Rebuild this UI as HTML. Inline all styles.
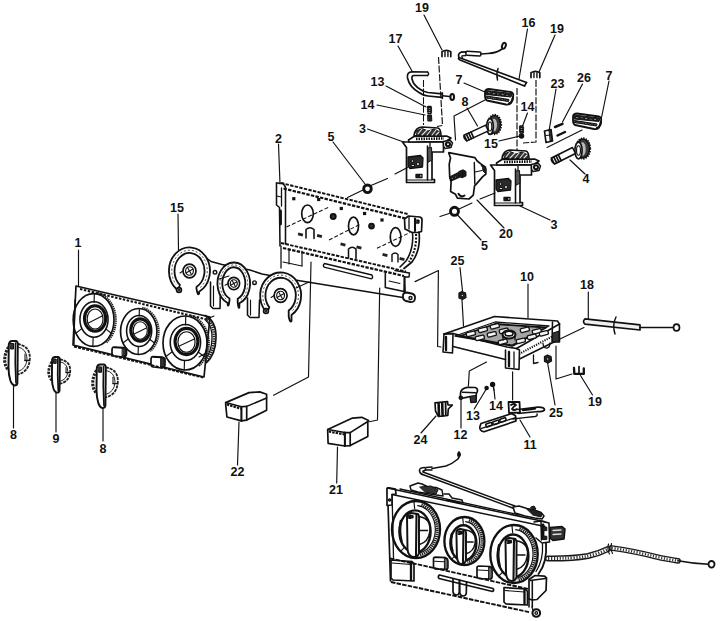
<!DOCTYPE html>
<html><head><meta charset="utf-8"><style>
html,body{margin:0;padding:0;background:#fff;overflow:hidden;}
svg{display:block;}
text{font-family:"Liberation Sans",sans-serif;font-weight:bold;font-size:12.5px;fill:#111;text-anchor:middle;}
</style></head><body>
<svg width="720" height="621" viewBox="0 0 720 621">
<rect width="720" height="621" fill="#fff"/>
<g fill="none" stroke="#111" stroke-linecap="round" stroke-linejoin="round">
<line x1="424" y1="15" x2="442" y2="50" stroke-width="1.17"/>
<line x1="398" y1="46" x2="412" y2="71" stroke-width="1.17"/>
<line x1="386" y1="86" x2="426" y2="107" stroke-width="1.17"/>
<line x1="377" y1="105" x2="425" y2="115" stroke-width="1.17"/>
<line x1="464" y1="83" x2="485" y2="92" stroke-width="1.17"/>
<line x1="467" y1="108" x2="477.5" y2="126" stroke-width="1.17"/>
<line x1="527.5" y1="29" x2="519" y2="79" stroke-width="1.17"/>
<line x1="555" y1="35" x2="539" y2="72" stroke-width="1.17"/>
<line x1="527.5" y1="113" x2="521" y2="130" stroke-width="1.17"/>
<line x1="499" y1="141" x2="520" y2="136" stroke-width="1.17"/>
<line x1="556" y1="89" x2="549" y2="131" stroke-width="1.17"/>
<line x1="582.5" y1="84" x2="562.5" y2="122" stroke-width="1.17"/>
<line x1="609" y1="81" x2="601" y2="120" stroke-width="1.17"/>
<line x1="367.5" y1="129" x2="405" y2="142.5" stroke-width="1.17"/>
<line x1="333" y1="142" x2="365" y2="184" stroke-width="1.17"/>
<line x1="278.5" y1="144" x2="280" y2="184" stroke-width="1.17"/>
<line x1="585" y1="174" x2="570" y2="160" stroke-width="1.17"/>
<line x1="550" y1="220" x2="520" y2="206" stroke-width="1.17"/>
<line x1="504" y1="228" x2="477" y2="200" stroke-width="1.17"/>
<line x1="481" y1="240" x2="457.5" y2="215" stroke-width="1.17"/>
<line x1="178" y1="214" x2="178.5" y2="250" stroke-width="1.17"/>
<line x1="78.5" y1="250" x2="78.5" y2="286" stroke-width="1.17"/>
<line x1="460" y1="267.5" x2="462.5" y2="291" stroke-width="1.17"/>
<line x1="528" y1="284" x2="528" y2="317.5" stroke-width="1.17"/>
<line x1="588.3" y1="292" x2="588.3" y2="320" stroke-width="1.17"/>
<line x1="13.5" y1="386" x2="13.5" y2="428" stroke-width="1.17"/>
<line x1="56" y1="392" x2="56" y2="432" stroke-width="1.17"/>
<line x1="103" y1="408" x2="103" y2="441" stroke-width="1.17"/>
<line x1="239" y1="422" x2="237.5" y2="465" stroke-width="1.17"/>
<line x1="337.5" y1="447" x2="336.7" y2="483" stroke-width="1.17"/>
<line x1="436" y1="416" x2="421" y2="433" stroke-width="1.17"/>
<line x1="461" y1="399" x2="461" y2="428" stroke-width="1.17"/>
<line x1="474.2" y1="409" x2="486" y2="389.5" stroke-width="1.17"/>
<line x1="494" y1="390" x2="495" y2="399" stroke-width="1.17"/>
<line x1="520" y1="420" x2="530" y2="437" stroke-width="1.17"/>
<line x1="547.5" y1="362.5" x2="555" y2="405" stroke-width="1.17"/>
<line x1="580.5" y1="375.5" x2="592.5" y2="395" stroke-width="1.17"/>
<line x1="281" y1="183" x2="408.5" y2="214.2" stroke-width="1.95" stroke-linecap="butt" stroke-dasharray="3.4 1.3"/>
<line x1="283.5" y1="188.5" x2="406" y2="218.6" stroke-width="2.21" stroke-linecap="butt" stroke-dasharray="3.4 1.3"/>
<polyline points="276.5,183 283,183.5 285.5,187 285.5,244" stroke-width="1.56" fill="none"/>
<polyline points="276.5,183 276.5,205 279.5,207.5 280,246" stroke-width="1.56" fill="none"/>
<line x1="281.5" y1="188" x2="281.5" y2="206" stroke-width="1.30"/>
<line x1="280.5" y1="211" x2="280.5" y2="224" stroke-width="2.86"/>
<line x1="276.5" y1="196" x2="281.5" y2="197" stroke-width="1.17"/>
<line x1="281" y1="243" x2="406" y2="271.5" stroke-width="1.95" stroke-linecap="butt" stroke-dasharray="3.4 1.3"/>
<line x1="283" y1="248" x2="404" y2="276" stroke-width="2.21" stroke-linecap="butt" stroke-dasharray="3.4 1.3"/>
<path d="M404.5,219 L408.5,216 L420,217 Q422.5,218 422,221 L421.5,231.5 L418,232.5 L412,232.5 L405,229 Z" fill="#fff" stroke="#111" stroke-width="1.69"/>
<line x1="409" y1="217" x2="409" y2="229" stroke-width="1.30"/>
<line x1="415" y1="218.5" x2="415" y2="231" stroke-width="2.08"/>
<rect x="416.5" y="220" width="2.6" height="3.2" fill="#222"/>
<path d="M419,232 Q421,250 412,262 L404,268.5" stroke-width="1.69" fill="none"/>
<path d="M412.5,232.5 Q414,249 406,261 L400,267" stroke-width="1.56" fill="none"/>
<path d="M416,234 Q417,249 409,262" stroke-width="2.08" fill="none" stroke-linecap="butt" stroke-dasharray="2 1.5"/>
<ellipse cx="307.5" cy="213.8" rx="5.8" ry="8.8" stroke-width="1.69" fill="none"/>
<ellipse cx="353.5" cy="226" rx="5" ry="8.8" stroke-width="1.69" fill="none"/>
<ellipse cx="395.6" cy="237" rx="5.3" ry="9.4" stroke-width="1.69" fill="none"/>
<line x1="286.5" y1="227" x2="329" y2="207" stroke-width="1.04" stroke-linecap="butt" stroke-dasharray="4 2"/>
<line x1="329" y1="240" x2="360.6" y2="224" stroke-width="1.04" stroke-linecap="butt" stroke-dasharray="4 2"/>
<line x1="377" y1="248.3" x2="410" y2="232.5" stroke-width="1.04" stroke-linecap="butt" stroke-dasharray="4 2"/>
<rect x="292.2" y="197.1" width="3.2" height="3.2" fill="#111" stroke="none"/>
<rect x="317.09999999999997" y="197.9" width="3.2" height="3.2" fill="#111" stroke="none"/>
<rect x="339.7" y="206.9" width="3.2" height="3.2" fill="#111" stroke="none"/>
<rect x="363.0" y="211.9" width="3.2" height="3.2" fill="#111" stroke="none"/>
<rect x="380.4" y="218.4" width="3.2" height="3.2" fill="#111" stroke="none"/>
<circle cx="333.2" cy="216.5" r="2.5" stroke-width="1.95" fill="#333"/>
<circle cx="371.5" cy="226" r="2.4" stroke-width="1.95" fill="#333"/>
<rect x="298.0" y="233.1" width="5" height="2.8" fill="#222" stroke="none" transform="rotate(13 300.5 234.5)"/>
<rect x="317.0" y="234.6" width="5" height="2.8" fill="#222" stroke="none" transform="rotate(13 319.5 236)"/>
<rect x="340.5" y="243.1" width="5" height="2.8" fill="#222" stroke="none" transform="rotate(13 343 244.5)"/>
<rect x="356.5" y="246.1" width="5" height="2.8" fill="#222" stroke="none" transform="rotate(13 359 247.5)"/>
<rect x="382.5" y="253.6" width="5" height="2.8" fill="#222" stroke="none" transform="rotate(13 385 255)"/>
<rect x="399.5" y="257.6" width="5" height="2.8" fill="#222" stroke="none" transform="rotate(13 402 259)"/>
<path d="M306,238 L306,229.5 Q310,226 314,229.5 L314,238.5" stroke-width="1.56" fill="none"/>
<path d="M348.5,258 L348.5,249 Q352.2,245.5 356,249 L356,258.5" stroke-width="1.56" fill="none"/>
<path d="M392,261.5 L392,254.5 Q395,251.5 398,254.5 L398,262" stroke-width="1.43" fill="none"/>
<polyline points="281,246 281,268" stroke-width="1.30" fill="none"/>
<line x1="289" y1="249" x2="289" y2="264" stroke-width="1.17"/>
<line x1="302" y1="251" x2="302" y2="266" stroke-width="1.17"/>
<line x1="283" y1="262" x2="302" y2="266" stroke-width="1.17"/>
<line x1="292" y1="279.5" x2="409" y2="298.5" stroke-width="1.43"/>
<path d="M324.5,263.5 L372,275 Q373.5,277.5 371.5,278.8 L324,267.2 Q322.5,265 324.5,263.5 Z" stroke-width="1.30" fill="none"/>
<polyline points="385.3,273.5 385.3,287.5 404,291.5 404.5,277" stroke-width="1.56" fill="none"/>
<polyline points="395,270.5 409.5,273 409,277 404.5,277" stroke-width="1.43" fill="none"/>
<line x1="389" y1="281" x2="400" y2="283.5" stroke-width="1.04"/>
<line x1="404.5" y1="277" x2="405" y2="292" stroke-width="1.82"/>
<path d="M403,295.5 Q403,292.5 407,292.5 L411.5,293.5 Q415.5,294.5 415,298.5 Q414.5,302.5 410.5,302 L406,301 Q402.5,300 403,295.5 Z" fill="#fff" stroke="#111" stroke-width="1.82"/>
<circle cx="410.5" cy="298" r="1.5" stroke-width="1.43" fill="none"/>
<path d="M196,250 L212,259 L250,269.5 L281,276 L292,279 L290,300 L262,318 L255,318 L248,316 L221,308 L211,306 L200,292 Z" fill="#fff" stroke="none"/>
<polyline points="196,250 211,261.5 222,264.5 250,270 262,274 292,279.5" stroke-width="1.56" fill="none"/>
<polyline points="210.5,282 210.5,306 213,308.5 220,308.5 220.5,285" stroke-width="1.56" fill="none"/>
<line x1="213.5" y1="286" x2="213.5" y2="306" stroke-width="1.17"/>
<polyline points="247.5,298 247.5,315 250,317.5 259,317.5 259.5,300" stroke-width="1.56" fill="none"/>
<line x1="250.5" y1="300" x2="250.5" y2="315" stroke-width="1.17"/>
<circle cx="215" cy="272.3" r="1.8" stroke-width="1.43" fill="none"/>
<circle cx="254.5" cy="282.7" r="1.8" stroke-width="1.43" fill="none"/>
<path d="M199.1,293.7 L199.1,291.7 A20.5,23.5 0 1 0 176.3,289.0 L176.3,289.0 Q178.1,291.5 179.9,284.8 L179.9,284.8 A15.0,18.0 0 1 1 196.5,286.9 L196.5,288.9 Q197.8,296.2 199.1,293.7 Z" fill="#fff" stroke="#111" stroke-width="1.82"/>
<path d="M200.4,287.4 A17.75,20.75 0 1 0 175.9,284.3" fill="none" stroke="#333" stroke-width="0.91" stroke-linecap="butt" stroke-dasharray="2 2"/>
<ellipse cx="189.5" cy="271" rx="6.5" ry="6.825" stroke-width="1.69" fill="#fff"/>
<ellipse cx="189.5" cy="271" rx="3.9" ry="4.2250000000000005" stroke-width="1.17" fill="none"/>
<line x1="185.925" y1="272.95" x2="193.075" y2="269.05" stroke-width="1.04"/>
<line x1="187.55" y1="267.425" x2="191.45" y2="274.575" stroke-width="1.04"/>
<line x1="180.0" y1="272.95" x2="183.0" y2="271" stroke-width="1.04"/>
<circle cx="179" cy="290" r="2.4" stroke-width="1.69" fill="#fff"/>
<circle cx="179" cy="290" r="0.9" stroke-width="1.04" fill="none"/>
<path d="M239.4,307.2 L239.4,303.2 A16.3,21 0 1 0 227.7,303.0 L227.7,305.0 Q228.6,307.5 229.5,300.5 L229.5,298.5 A11.5,16.2 0 1 1 237.7,298.7 L237.7,302.7 Q238.6,309.7 239.4,307.2 Z" fill="#fff" stroke="#111" stroke-width="1.82"/>
<path d="M240.8,299.6 A13.9,18.6 0 1 0 226.4,299.3" fill="none" stroke="#333" stroke-width="0.91" stroke-linecap="butt" stroke-dasharray="2 2"/>
<ellipse cx="233.8" cy="283.5" rx="5.8" ry="6.09" stroke-width="1.69" fill="#fff"/>
<ellipse cx="233.8" cy="283.5" rx="3.48" ry="3.77" stroke-width="1.17" fill="none"/>
<line x1="230.61" y1="285.24" x2="236.99" y2="281.76" stroke-width="1.04"/>
<line x1="232.06" y1="280.31" x2="235.54000000000002" y2="286.69" stroke-width="1.04"/>
<line x1="225.0" y1="285.24" x2="228.0" y2="283.5" stroke-width="1.04"/>
<path d="M291.5,321.0 L291.5,315.0 A20.5,23 0 1 0 265.4,310.9 L265.4,310.9 Q267.3,313.4 269.3,307.3 L269.3,307.3 A15.2,17.7 0 1 1 288.7,310.5 L288.7,316.5 Q290.1,323.5 291.5,321.0 Z" fill="#fff" stroke="#111" stroke-width="1.82"/>
<path d="M292.5,310.6 A17.85,20.35 0 1 0 265.5,306.3" fill="none" stroke="#333" stroke-width="0.91" stroke-linecap="butt" stroke-dasharray="2 2"/>
<ellipse cx="280.6" cy="295.5" rx="6.5" ry="6.825" stroke-width="1.69" fill="#fff"/>
<ellipse cx="280.6" cy="295.5" rx="3.9" ry="4.2250000000000005" stroke-width="1.17" fill="none"/>
<line x1="277.02500000000003" y1="297.45" x2="284.175" y2="293.55" stroke-width="1.04"/>
<line x1="278.65000000000003" y1="291.925" x2="282.55" y2="299.075" stroke-width="1.04"/>
<line x1="271.1" y1="297.45" x2="274.1" y2="295.5" stroke-width="1.04"/>
<circle cx="266" cy="311" r="2.4" stroke-width="1.69" fill="#fff"/>
<circle cx="266" cy="311" r="0.9" stroke-width="1.04" fill="none"/>
<line x1="296" y1="288" x2="309" y2="282" stroke-width="1.17"/>
<line x1="219" y1="279" x2="229" y2="276" stroke-width="1.17"/>
<polygon points="76,286 210,317 204,377 73,345" stroke-width="1.69" fill="none"/>
<line x1="80" y1="289" x2="207" y2="319.5" stroke-width="2.08" stroke-linecap="butt" stroke-dasharray="2.5 1.5"/>
<line x1="75" y1="300" x2="74" y2="344" stroke-width="1.30"/>
<ellipse cx="93.6" cy="320" rx="20.4" ry="26.4" stroke-width="1.69" fill="none"/>
<path d="M97.5,292.8 A22.2,27.599999999999998 0 0 1 106.3,342.6" fill="none" stroke="#222" stroke-width="2.08" stroke-linecap="butt" stroke-dasharray="1.4 0.7"/>
<ellipse cx="94.0" cy="319.5" rx="14.075999999999999" ry="17.688" stroke-width="1.56" fill="none"/>
<ellipse cx="95.1" cy="318.5" rx="10.607999999999999" ry="12.803999999999998" stroke-width="3.12" fill="none"/>
<ellipse cx="95.1" cy="319" rx="7.9559999999999995" ry="10.032" stroke-width="1.17" fill="none"/>
<line x1="94.31194973273102" y1="293.6160821666959" x2="94.0912453155844" y2="302.3227750516862" stroke-width="1.17"/>
<line x1="92.88805026726898" y1="346.3839178333041" x2="93.10875468441559" y2="337.6772249483138" stroke-width="1.17"/>
<line x1="75.93308176279744" y1="333.2" x2="81.40982641633023" y2="328.844" stroke-width="1.17"/>
<line x1="111.26691823720255" y1="333.2" x2="105.79017358366976" y2="328.844" stroke-width="1.17"/>
<line x1="87.88799999999999" y1="323.168" x2="102.16799999999999" y2="316.04" stroke-width="1.04"/>
<ellipse cx="138.75" cy="331.5" rx="18.2" ry="23" stroke-width="1.69" fill="none"/>
<path d="M142.2,307.7 A20.0,24.2 0 0 1 150.2,351.3" fill="none" stroke="#222" stroke-width="2.08" stroke-linecap="butt" stroke-dasharray="1.4 0.7"/>
<ellipse cx="139.15" cy="331.0" rx="12.557999999999998" ry="15.41" stroke-width="1.56" fill="none"/>
<ellipse cx="140.25" cy="330.0" rx="9.464" ry="11.155" stroke-width="3.12" fill="none"/>
<ellipse cx="140.25" cy="330.5" rx="7.098" ry="8.74" stroke-width="1.17" fill="none"/>
<line x1="139.3851708399855" y1="308.5140109785608" x2="139.18826787959" y2="316.0993873556357" stroke-width="1.17"/>
<line x1="138.1148291600145" y1="354.4859890214392" x2="138.31173212041" y2="346.9006126443643" stroke-width="1.17"/>
<line x1="122.98833765112322" y1="343.0" x2="127.87445297927502" y2="339.205" stroke-width="1.17"/>
<line x1="154.5116623488768" y1="343.0" x2="149.62554702072498" y2="339.205" stroke-width="1.17"/>
<line x1="133.654" y1="334.26" x2="146.394" y2="328.05" stroke-width="1.04"/>
<ellipse cx="185" cy="343" rx="22" ry="27" stroke-width="1.69" fill="none"/>
<path d="M189.1,315.2 A23.8,28.2 0 0 1 198.7,366.1" fill="none" stroke="#222" stroke-width="2.08" stroke-linecap="butt" stroke-dasharray="1.4 0.7"/>
<ellipse cx="185.4" cy="342.5" rx="15.18" ry="18.09" stroke-width="1.56" fill="none"/>
<ellipse cx="186.5" cy="341.5" rx="11.440000000000001" ry="13.094999999999999" stroke-width="3.12" fill="none"/>
<ellipse cx="186.5" cy="342" rx="8.58" ry="10.26" stroke-width="1.17" fill="none"/>
<line x1="185.76778892745503" y1="316.0164476704844" x2="185.52977435994396" y2="324.92101993922455" stroke-width="1.17"/>
<line x1="184.23221107254497" y1="369.9835523295156" x2="184.47022564005604" y2="361.07898006077545" stroke-width="1.17"/>
<line x1="165.94744111674234" y1="356.5" x2="171.85373437055222" y2="352.045" stroke-width="1.17"/>
<line x1="204.05255888325766" y1="356.5" x2="198.14626562944778" y2="352.045" stroke-width="1.17"/>
<line x1="178.84" y1="346.24" x2="194.24" y2="338.95" stroke-width="1.04"/>
<path d="M205,315.5 Q216.5,321 216,338 Q215.5,355 206.5,362.5" stroke-width="1.69" fill="none"/>
<path d="M205.5,320 Q212.5,326 212,338.5 Q211.5,352 205.5,358.5" stroke-width="1.30" fill="none"/>
<path d="M205.5,318 Q214.5,323.5 214,338.3 Q213.5,353.5 206,360.5" fill="none" stroke="#222" stroke-width="2.86" stroke-linecap="butt" stroke-dasharray="1.4 0.9"/>
<path d="M114,347 Q112,347 112,350 L112,353.5 Q112,355.5 114.5,356.0 L123.5,357.0 Q126.5,356.5 126.5,353.5 L126.5,350 Q126.5,348 123.5,347.5 Z" fill="#fff" stroke="#111" stroke-width="1.69"/>
<path d="M122.5,348 L125.5,349 L126.0,355.0 L122.5,356.0 Z" fill="#333"/>
<line x1="114" y1="347.5" x2="122.5" y2="348" stroke-width="1.30"/>
<path d="M153,356.5 Q151,356.5 151,359.5 L151,364.5 Q151,366.5 153.5,367.0 L162,368.0 Q165,367.5 165,364.5 L165,359.5 Q165,357.5 162,357.0 Z" fill="#fff" stroke="#111" stroke-width="1.69"/>
<path d="M161,357.5 L164,358.5 L164.5,366.0 L161,367.0 Z" fill="#333"/>
<line x1="153" y1="357.0" x2="161" y2="357.5" stroke-width="1.30"/>
<line x1="74" y1="346.5" x2="203" y2="377.5" stroke-width="1.95" stroke-linecap="butt" stroke-dasharray="3 1.2"/>
<line x1="207" y1="319" x2="214" y2="316" stroke-width="1.04"/>
<line x1="199" y1="357" x2="206" y2="353" stroke-width="1.04"/>
<path d="M17.5,344.0 Q30.5,346.0 29.8,359.0 Q29.0,372.0 17.5,374.5" fill="none" stroke="#222" stroke-width="1.82" stroke-linecap="butt" stroke-dasharray="3.2 0.9"/>
<path d="M18.0,347.0 Q27.0,349.0 27.0,359.0 Q26.5,369.0 18.0,371.5" stroke-width="0.91" fill="none"/>
<line x1="25.0" y1="360.5" x2="29.5" y2="360.5" stroke-width="1.43"/>
<line x1="25.0" y1="354.0" x2="25.0" y2="360.5" stroke-width="1.04"/>
<path d="M8.5,347.0 Q4.3,354.0 4.8,362.0 Q5.5,367.0 8.5,370.0" fill="none" stroke="#222" stroke-width="3.12" stroke-linecap="butt" stroke-dasharray="2.4 1.1"/>
<path d="M8.8,344.5 Q9.5,341.0 12.0,341.0 L16.0,341.0 Q17.8,341.5 17.8,344.5 L17.4,383.0 Q17.0,385.5 14.5,385.5 Q12.0,385.0 10.5,381.0 Q8.5,375.0 8.5,367.0 Z" fill="#fff" stroke="#111" stroke-width="1.95"/>
<path d="M15.5,343.0 Q14.8,363.0 16.0,383.0" stroke-width="1.69" fill="none"/>
<path d="M10.5,343.5 L13.5,343.5 L13.5,349.0 L11.0,349.0 Z" fill="#333"/>
<path d="M59.6,359.4 Q70.8,361.0 70.2,371.4 Q69.5,381.8 59.6,383.8" fill="none" stroke="#222" stroke-width="1.82" stroke-linecap="butt" stroke-dasharray="3.2 0.9"/>
<path d="M60.0,361.8 Q67.8,363.4 67.8,371.4 Q67.3,379.4 60.0,381.4" stroke-width="0.91" fill="none"/>
<line x1="66.06" y1="372.6" x2="69.93" y2="372.6" stroke-width="1.43"/>
<line x1="66.06" y1="367.4" x2="66.06" y2="372.6" stroke-width="1.04"/>
<path d="M51.9,361.8 Q48.3,367.4 48.7,373.8 Q49.3,377.8 51.9,380.2" fill="none" stroke="#222" stroke-width="2.73" stroke-linecap="butt" stroke-dasharray="2.4 1.1"/>
<path d="M52.1,359.8 Q52.7,357.0 54.9,357.0 L58.3,357.0 Q59.9,357.4 59.9,359.8 L59.5,390.6 Q59.2,392.6 57.0,392.6 Q54.9,392.2 53.6,389.0 Q51.9,384.2 51.9,377.8 Z" fill="#fff" stroke="#111" stroke-width="1.95"/>
<path d="M57.9,358.6 Q57.3,374.6 58.3,390.6" stroke-width="1.69" fill="none"/>
<path d="M53.6,359.0 L56.2,359.0 L56.2,363.4 L54.0,363.4 Z" fill="#333"/>
<path d="M105.5,367.4 Q118.5,369.4 117.8,382.1 Q117.0,394.9 105.5,397.3" fill="none" stroke="#222" stroke-width="1.82" stroke-linecap="butt" stroke-dasharray="3.2 0.9"/>
<path d="M106.0,370.4 Q115.0,372.3 115.0,382.1 Q114.5,391.9 106.0,394.4" stroke-width="0.91" fill="none"/>
<line x1="113.0" y1="383.61" x2="117.5" y2="383.61" stroke-width="1.43"/>
<line x1="113.0" y1="377.24" x2="113.0" y2="383.61" stroke-width="1.04"/>
<path d="M96.5,370.4 Q92.3,377.2 92.8,385.1 Q93.5,390.0 96.5,392.9" fill="none" stroke="#222" stroke-width="3.12" stroke-linecap="butt" stroke-dasharray="2.4 1.1"/>
<path d="M96.8,367.9 Q97.5,364.5 100.0,364.5 L104.0,364.5 Q105.8,365.0 105.8,367.9 L105.4,405.7 Q105.0,408.1 102.5,408.1 Q100.0,407.6 98.5,403.7 Q96.5,397.8 96.5,390.0 Z" fill="#fff" stroke="#111" stroke-width="1.95"/>
<path d="M103.5,366.5 Q102.8,386.1 104.0,405.7" stroke-width="1.69" fill="none"/>
<path d="M98.5,366.9 L101.5,366.9 L101.5,372.3 L99.0,372.3 Z" fill="#333"/>
<path d="M225.7,402.6 L249,392.6 L259.7,391.9 L266.6,394.2 L266.6,398 L266.6,410.2 L246.7,420.1 L241.4,420.9 L226.9,417 L225.7,404.6 L225.7,402.6 Z" fill="#fff" stroke="#111" stroke-width="1.69"/>
<polyline points="225.7,402.6 241.4,406.8 246.7,406.4 266.6,398" stroke-width="1.56" fill="none"/>
<line x1="241.4" y1="406.8" x2="241.4" y2="420.9" stroke-width="2.08"/>
<line x1="246.7" y1="406.4" x2="246.7" y2="420.1" stroke-width="1.69"/>
<line x1="226.7" y1="404.6" x2="240.9" y2="408.6" stroke-width="2.08" stroke-linecap="butt" stroke-dasharray="2.5 1"/>
<path d="M327.7,429.6 L352.5,418.1 L361.7,417.3 L368.6,420.4 L367.8,421.5 L367.8,436.4 L350.2,445.6 L344.9,446 L328.1,443.3 L327.7,431.6 L327.7,429.6 Z" fill="#fff" stroke="#111" stroke-width="1.69"/>
<polyline points="327.7,429.6 344.9,432.6 350.2,432.6 367.8,421.5" stroke-width="1.56" fill="none"/>
<line x1="344.9" y1="432.6" x2="344.9" y2="446" stroke-width="2.08"/>
<line x1="350.2" y1="432.6" x2="350.2" y2="445.6" stroke-width="1.69"/>
<line x1="328.7" y1="431.6" x2="344.4" y2="434.40000000000003" stroke-width="2.08" stroke-linecap="butt" stroke-dasharray="2.5 1"/>
<polyline points="311,262 308.5,377 273.6,395.3" stroke-width="1.17" fill="none"/>
<polyline points="379.7,288 377.5,420 369.4,421.7" stroke-width="1.17" fill="none"/>
<path d="M402.5,142.0 L406.5,147.5 L406.5,182.5 L434.5,182.5 L434.5,179.5 L432.0,179.5 L432.0,152.0 L443.5,152.0 L443.5,142.0 Z" fill="#fff" stroke="#111" stroke-width="1.69"/>
<line x1="427.5" y1="146" x2="427.5" y2="180" stroke-width="1.56"/>
<line x1="430" y1="143" x2="430" y2="152" stroke-width="1.30"/>
<path d="M428.0,148.0 L431.5,147.5 L432.0,160.0 L428.5,162.0 Z" fill="#555"/>
<line x1="406.5" y1="180" x2="432" y2="180" stroke-width="1.04"/>
<path d="M408.5,140.0 L414.0,136.5 L446.5,136.0 L451.0,138.0 L446.0,141.5 L409.0,142.0 Z" fill="#fff" stroke="#111" stroke-width="1.69"/>
<line x1="416" y1="139" x2="444" y2="138.5" stroke-width="2.60" stroke-linecap="butt" stroke-dasharray="1.5 1"/>
<path d="M414.0,135.5 Q415.0,127.5 422.0,127.0 L438.0,128.0 Q441.0,129.0 441.0,136.0 Z" fill="#fff" stroke="#111" stroke-width="1.56"/>
<path d="M416.0,131.0 L422.0,128.5 L428.0,131.0 L434.0,129.0 L440.0,132.0 L439.0,135.5 L431.0,135.0 L424.0,135.5 L417.0,135.0 Z" fill="#333"/>
<path d="M418.0,134.0 L422.0,129.0 M422.0,135.0 L427.0,130.0 M427.0,135.0 L431.0,130.0 M432.0,135.0 L436.0,130.0 M436.0,135.0 L439.0,132.0" stroke="#ddd" stroke-width="1.17"/>
<path d="M443.5,141.5 L450.0,140.0 L452.5,143.0 L451.0,147.5 L445.0,148.5 L443.5,146.0 Z" fill="#fff" stroke="#111" stroke-width="1.43"/>
<circle cx="448" cy="144.2" r="2.0" stroke-width="2.08" fill="none"/>
<path d="M408.0,157.0 L420.5,155.5 L423.0,158.0 L422.5,167.0 L410.0,168.5 L408.0,166.0 Z" fill="#2a2a2a" stroke="#111" stroke-width="1.30"/>
<circle cx="412.5" cy="161" r="1.4" stroke-width="1.17" fill="#fff"/>
<circle cx="418" cy="164" r="1.5" stroke-width="1.17" fill="#fff"/>
<rect x="411.5" y="164.5" width="3" height="2" fill="#ddd"/>
<rect x="416" y="174.5" width="6" height="3" fill="none" stroke="#111" stroke-width="1.30"/>
<rect x="417" y="175.5" width="3" height="1.4" fill="#222"/>
<path d="M490.5,165.0 L494.5,170.5 L494.5,205.5 L522.5,205.5 L522.5,202.5 L520.0,202.5 L520.0,175.0 L531.5,175.0 L531.5,165.0 Z" fill="#fff" stroke="#111" stroke-width="1.69"/>
<line x1="515.5" y1="169" x2="515.5" y2="203" stroke-width="1.56"/>
<line x1="518" y1="166" x2="518" y2="175" stroke-width="1.30"/>
<path d="M516.0,171.0 L519.5,170.5 L520.0,183.0 L516.5,185.0 Z" fill="#555"/>
<line x1="494.5" y1="203" x2="520" y2="203" stroke-width="1.04"/>
<path d="M496.5,163.0 L502.0,159.5 L534.5,159.0 L539.0,161.0 L534.0,164.5 L497.0,165.0 Z" fill="#fff" stroke="#111" stroke-width="1.69"/>
<line x1="504" y1="162" x2="532" y2="161.5" stroke-width="2.60" stroke-linecap="butt" stroke-dasharray="1.5 1"/>
<path d="M502.0,158.5 Q503.0,150.5 510.0,150.0 L526.0,151.0 Q529.0,152.0 529.0,159.0 Z" fill="#fff" stroke="#111" stroke-width="1.56"/>
<path d="M504.0,154.0 L510.0,151.5 L516.0,154.0 L522.0,152.0 L528.0,155.0 L527.0,158.5 L519.0,158.0 L512.0,158.5 L505.0,158.0 Z" fill="#333"/>
<path d="M506.0,157.0 L510.0,152.0 M510.0,158.0 L515.0,153.0 M515.0,158.0 L519.0,153.0 M520.0,158.0 L524.0,153.0 M524.0,158.0 L527.0,155.0" stroke="#ddd" stroke-width="1.17"/>
<path d="M531.5,164.5 L538.0,163.0 L540.5,166.0 L539.0,170.5 L533.0,171.5 L531.5,169.0 Z" fill="#fff" stroke="#111" stroke-width="1.43"/>
<circle cx="536" cy="167.2" r="2.0" stroke-width="2.08" fill="none"/>
<path d="M496.0,180.0 L508.5,178.5 L511.0,181.0 L510.5,190.0 L498.0,191.5 L496.0,189.0 Z" fill="#2a2a2a" stroke="#111" stroke-width="1.30"/>
<circle cx="500.5" cy="184" r="1.4" stroke-width="1.17" fill="#fff"/>
<circle cx="506" cy="187" r="1.5" stroke-width="1.17" fill="#fff"/>
<rect x="499.5" y="187.5" width="3" height="2" fill="#ddd"/>
<rect x="504" y="197.5" width="6" height="3" fill="none" stroke="#111" stroke-width="1.30"/>
<rect x="505" y="198.5" width="3" height="1.4" fill="#222"/>
<polygon points="448.7,152.7 474.8,157.6 477.2,161 481.5,164.3 485.4,167.2 485.9,174 482.5,176.9 476.7,183.6 474.5,186 473.3,195.2 469,199 457.4,198.1 455.5,194.3 450.6,191.4 451.1,181.7 449.7,176.9 449.2,164.3 450.5,158" stroke-width="1.69" fill="none"/>
<line x1="474.3" y1="162.5" x2="474.8" y2="184" stroke-width="1.43"/>
<line x1="475" y1="172" x2="482" y2="170.5" stroke-width="1.17"/>
<path d="M481.5,165.5 Q486,166 486.2,170 L485.5,173.5 L483,171 Q483,167 481.5,165.5 Z" fill="#222"/>
<path d="M449.7,177 L458.5,172.5 L460,177 L451,181 Z" fill="#222" stroke="#111" stroke-width="1.17"/>
<circle cx="452.2" cy="178.6" r="1.0" stroke-width="1.04" fill="#fff"/>
<circle cx="455.5" cy="177" r="1.0" stroke-width="1.04" fill="#fff"/>
<path d="M459,171.5 L463,169.8 L466,171.5 L466,176 L462,177.8 L459.5,176.5 Z" fill="#1a1a1a"/>
<line x1="462.5" y1="171" x2="462.5" y2="176.5" stroke-width="0.91"/>
<path d="M458.4,193.8 Q461,197.8 464.5,195.5" fill="none" stroke="#111" stroke-width="2.08"/>
<circle cx="367.5" cy="188.8" r="3.8" stroke-width="2.86" fill="none"/>
<circle cx="454.5" cy="211.3" r="4.0" stroke-width="2.86" fill="none"/>
<line x1="347.5" y1="197.5" x2="364" y2="189.5" stroke-width="1.17"/>
<line x1="371" y1="185.5" x2="387.5" y2="178.5" stroke-width="1.17"/>
<line x1="395" y1="174" x2="407.5" y2="167.5" stroke-width="1.17"/>
<line x1="440" y1="216.5" x2="450.5" y2="213" stroke-width="1.17"/>
<line x1="459" y1="209" x2="472" y2="203" stroke-width="1.17"/>
<line x1="480" y1="199" x2="495" y2="193" stroke-width="1.17"/>
<ellipse cx="494.5" cy="124.5" rx="6" ry="9" fill="#3a3a3a" stroke="#111" stroke-width="1.56"/>
<ellipse cx="494.5" cy="124.5" rx="6.6" ry="9.6" fill="none" stroke="#111" stroke-width="2.08" stroke-linecap="butt" stroke-dasharray="1.3 1.1"/>
<ellipse cx="494.0" cy="125.0" rx="3.0" ry="6.3" fill="#bbb" stroke="none"/>
<ellipse cx="490.0" cy="126.5" rx="3.3000000000000003" ry="7.92" fill="#fff" stroke="#111" stroke-width="1.69"/>
<ellipse cx="490.0" cy="126.5" rx="1.7999999999999998" ry="4.5" fill="none" stroke="#111" stroke-width="1.17"/>
<path d="M466.8,140.9 L488.3,130.9 L485.7,125.1 L464.2,135.1 Z" fill="#fff" stroke="#111" stroke-width="1.56"/>
<path d="M466.8,140.9 Q463.0,138.0 464.2,135.1" stroke-width="1.56" fill="none"/>
<line x1="469.1163411788111" y1="139.84718068375426" x2="466.4172643806314" y2="134.04416556766782" stroke-width="1.69"/>
<line x1="471.3831439585324" y1="138.7928538094653" x2="468.6840671603527" y2="132.98983869337886" stroke-width="1.69"/>
<line x1="473.6499467382537" y1="137.73852693517634" x2="470.95086994007397" y2="131.9355118190899" stroke-width="1.69"/>
<ellipse cx="583" cy="148.5" rx="6.5" ry="9.5" fill="#3a3a3a" stroke="#111" stroke-width="1.56"/>
<ellipse cx="583" cy="148.5" rx="7.1" ry="10.1" fill="none" stroke="#111" stroke-width="2.08" stroke-linecap="butt" stroke-dasharray="1.3 1.1"/>
<ellipse cx="582.5" cy="149.0" rx="3.25" ry="6.6499999999999995" fill="#bbb" stroke="none"/>
<ellipse cx="578.5" cy="150.5" rx="3.575" ry="8.36" fill="#fff" stroke="#111" stroke-width="1.69"/>
<ellipse cx="578.5" cy="150.5" rx="1.95" ry="4.75" fill="none" stroke="#111" stroke-width="1.17"/>
<path d="M554.5,164.0 L575.5,153.5 L572.5,147.5 L551.5,158.0 Z" fill="#fff" stroke="#111" stroke-width="1.56"/>
<path d="M554.5,164.0 Q550.5,161.0 551.5,158.0" stroke-width="1.56" fill="none"/>
<line x1="556.7565942021997" y1="162.9230184606498" x2="553.7155417527999" y2="156.8409135618504" stroke-width="1.69"/>
<line x1="558.9926621796994" y1="161.8049844718999" x2="555.9516097302997" y2="155.7228795731005" stroke-width="1.69"/>
<line x1="561.2287301571993" y1="160.68695048315" x2="558.1876777077995" y2="154.6048455843506" stroke-width="1.69"/>
<path d="M485.0,92.0 Q485.5,89.0 489.0,89.0 L511.0,92.0 Q514.0,93.0 513.0,97.0 L511.0,103.0 Q509.0,105.0 506.0,104.5 L487.0,100.5 Q485.0,99.5 485.0,96.0 Z" fill="#fff" stroke="#111" stroke-width="1.82"/>
<path d="M486.0,90.5 L512.0,93.5 L511.0,97.0 L486.0,94.5 Z" fill="#2a2a2a"/>
<path d="M486.5,96.0 L509.0,99.5 L508.5,101.5 L486.5,98.0 Z" fill="#555"/>
<rect x="488.0" y="92.0" width="2.6" height="1.6" fill="#ddd"/>
<rect x="488.0" y="97.0" width="2.2" height="1.3" fill="#eee"/>
<rect x="492.5" y="92.6" width="2.6" height="1.6" fill="#ddd"/>
<rect x="492.5" y="97.7" width="2.2" height="1.3" fill="#eee"/>
<rect x="497.0" y="93.2" width="2.6" height="1.6" fill="#ddd"/>
<rect x="497.0" y="98.3" width="2.2" height="1.3" fill="#eee"/>
<rect x="501.5" y="93.8" width="2.6" height="1.6" fill="#ddd"/>
<rect x="501.5" y="99.0" width="2.2" height="1.3" fill="#eee"/>
<rect x="506.0" y="94.4" width="2.6" height="1.6" fill="#ddd"/>
<rect x="506.0" y="99.6" width="2.2" height="1.3" fill="#eee"/>
<path d="M509.0,103.5 Q513.0,102.0 513.0,97.0" stroke-width="2.08" fill="none"/>
<path d="M573.0,116.5 Q573.5,113.5 577.0,113.5 L599.0,116.5 Q602.0,117.5 601.0,121.5 L599.0,127.5 Q597.0,129.5 594.0,129.0 L575.0,125.0 Q573.0,124.0 573.0,120.5 Z" fill="#fff" stroke="#111" stroke-width="1.82"/>
<path d="M574.0,115.0 L600.0,118.0 L599.0,121.5 L574.0,119.0 Z" fill="#2a2a2a"/>
<path d="M574.5,120.5 L597.0,124.0 L596.5,126.0 L574.5,122.5 Z" fill="#555"/>
<rect x="576.0" y="116.5" width="2.6" height="1.6" fill="#ddd"/>
<rect x="576.0" y="121.5" width="2.2" height="1.3" fill="#eee"/>
<rect x="580.5" y="117.1" width="2.6" height="1.6" fill="#ddd"/>
<rect x="580.5" y="122.2" width="2.2" height="1.3" fill="#eee"/>
<rect x="585.0" y="117.7" width="2.6" height="1.6" fill="#ddd"/>
<rect x="585.0" y="122.8" width="2.2" height="1.3" fill="#eee"/>
<rect x="589.5" y="118.3" width="2.6" height="1.6" fill="#ddd"/>
<rect x="589.5" y="123.5" width="2.2" height="1.3" fill="#eee"/>
<rect x="594.0" y="118.9" width="2.6" height="1.6" fill="#ddd"/>
<rect x="594.0" y="124.1" width="2.2" height="1.3" fill="#eee"/>
<path d="M597.0,128.0 Q601.0,126.5 601.0,121.5" stroke-width="2.08" fill="none"/>
<ellipse cx="503.9" cy="45.8" rx="1.8" ry="3" fill="#fff" stroke="#111" stroke-width="1.95" transform="rotate(20 503.9 45.8)"/>
<path d="M502,49 Q497,53 488,53.5 L481,54" stroke-width="1.69" fill="none"/>
<rect x="466" y="51.2" width="15" height="4" rx="1.3" fill="#fff" stroke="#111" stroke-width="1.56" transform="rotate(3 466 51.2)"/>
<path d="M466,51.8 L461,52.2 Q457.5,53.5 459,57.5 L526.5,82.5" stroke-width="1.69" fill="none"/>
<path d="M466,55.5 L462,55.8 Q461.5,57 462.5,57.8" stroke-width="1.30" fill="none"/>
<path d="M458.5,58.5 Q459,59.5 460,60 L524.5,86" stroke-width="1.69" fill="none"/>
<line x1="526.5" y1="82.5" x2="524.5" y2="86" stroke-width="1.56"/>
<path d="M498,68.5 Q496,74 497.5,80" stroke-width="1.43" fill="none"/>
<path d="M427.5,72 L412,71.8 Q406.5,72 407.5,78 Q409.5,87 419,92.5 Q423,95.5 428,96 L442,97.3" stroke-width="1.69" fill="none"/>
<path d="M427.5,75.5 L413.5,75.5 Q411.5,76 412,79 Q413.5,85.5 420.5,89.5 Q424,92 428,92.5 L442,93.8" stroke-width="1.69" fill="none"/>
<path d="M427.5,72 Q429.8,73.8 427.5,75.5" stroke-width="1.43" fill="none"/>
<line x1="442.3" y1="92.8" x2="442.3" y2="98.3" stroke-width="1.69"/>
<line x1="442.5" y1="95.8" x2="449.5" y2="96.6" stroke-width="1.56"/>
<ellipse cx="452.2" cy="97" rx="1.8" ry="3" fill="#fff" stroke="#111" stroke-width="2.08"/>
<path d="M442,56.6 L442,51.65 Q446.4,48.9 450.8,51.65 L450.8,56.6" stroke-width="1.69" fill="none"/>
<line x1="444.97" y1="51.65" x2="444.97" y2="56.6" stroke-width="1.43"/>
<line x1="447.94" y1="51.65" x2="447.94" y2="56.6" stroke-width="1.43"/>
<path d="M531,77.6 L531,72.65 Q535.4,69.9 539.8,72.65 L539.8,77.6" stroke-width="1.69" fill="none"/>
<line x1="533.97" y1="72.65" x2="533.97" y2="77.6" stroke-width="1.43"/>
<line x1="536.94" y1="72.65" x2="536.94" y2="77.6" stroke-width="1.43"/>
<polyline points="438.5,57 442.5,125.5 437,126.5" stroke-width="1.17" fill="none" stroke-linecap="butt" stroke-dasharray="7 1.6"/>
<polyline points="536,80 536,142 523,143" stroke-width="1.17" fill="none" stroke-linecap="butt" stroke-dasharray="7 1.6"/>
<line x1="517" y1="88" x2="517" y2="150" stroke-width="1.17" stroke-linecap="butt" stroke-dasharray="7 1.6"/>
<polyline points="485,100 454,116 455.5,140" stroke-width="1.17" fill="none"/>
<line x1="582" y1="130" x2="547" y2="147.5" stroke-width="1.17"/>
<path d="M428.0,106.5 L431.0,106.5 L431.0,113.5 L428.0,113.5 Z" fill="#fff" stroke="#111" stroke-width="1.30"/>
<line x1="427.5" y1="107" x2="431.5" y2="108" stroke-width="1.30"/>
<line x1="427.5" y1="109" x2="431.5" y2="110" stroke-width="1.30"/>
<line x1="427.5" y1="111" x2="431.5" y2="112" stroke-width="1.30"/>
<path d="M428,115 L431.5,115 L431.8,121 L428.2,121 Z" fill="#222"/>
<line x1="423.5" y1="80" x2="423.5" y2="125" stroke-width="1.04" stroke-linecap="butt" stroke-dasharray="7 1.6"/>
<path d="M520.0,126 L523.0,126 L523.0,133 L520.0,133 Z" fill="#fff" stroke="#111" stroke-width="1.30"/>
<line x1="519.5" y1="127" x2="523.5" y2="128" stroke-width="1.30"/>
<line x1="519.5" y1="129" x2="523.5" y2="130" stroke-width="1.30"/>
<line x1="519.5" y1="131" x2="523.5" y2="132" stroke-width="1.30"/>
<circle cx="521.5" cy="136" r="1.8" stroke-width="1.95" fill="#111"/>
<polygon points="544.5,131 551,129.5 552.5,141 546,142.5" stroke-width="1.69" fill="none"/>
<path d="M549.5,131 L551,130.5 L552,140.5 L550.5,141 Z" fill="#333"/>
<line x1="546" y1="135.5" x2="550" y2="135" stroke-width="1.17"/>
<line x1="555" y1="127" x2="562.5" y2="123.8" stroke-width="2.47"/>
<line x1="557.5" y1="135.5" x2="565" y2="132" stroke-width="2.47"/>
<polyline points="444,334 494.5,316.5 557.5,321 559.5,324" stroke-width="1.56" fill="none"/>
<polyline points="444,334 453,333.5 507,347 516.5,348.5" stroke-width="1.56" fill="none"/>
<polyline points="453,346.5 505.5,359.5" stroke-width="1.56" fill="none"/>
<polyline points="516.5,348.5 559.5,324" stroke-width="1.56" fill="none"/>
<polyline points="519.5,359 556,341" stroke-width="1.56" fill="none"/>
<line x1="519" y1="354" x2="556" y2="334.5" stroke-width="2.08" stroke-linecap="butt" stroke-dasharray="1.2 1.2"/>
<polygon points="444,334 443,352 452.5,353 453,333.5" stroke-width="1.56" fill="none"/>
<line x1="446" y1="337" x2="446" y2="350" stroke-width="2.34"/>
<polyline points="505.5,350 505.5,368 519,369.5 519.5,350 516.5,348.5" stroke-width="1.56" fill="none"/>
<line x1="509" y1="352" x2="509" y2="366" stroke-width="2.34"/>
<line x1="514" y1="352" x2="514" y2="368" stroke-width="1.30"/>
<polyline points="552.5,322 552,342 559.5,342 559.5,324" stroke-width="1.56" fill="none"/>
<path d="M553,333 L559,331 L559,341 L553,342 Z" fill="#333"/>
<polyline points="455,336 495,322 549,326 513,346 455,336" stroke-width="1.30" fill="none"/>
<path d="M460,336 L495,324 L546,327.5 L512,345.5 Z" fill="#a5a5a5" stroke="#111" stroke-width="1.82"/>
<rect x="466" y="333" width="9" height="4" rx="1.2" fill="#f4f4f4" stroke="#111" stroke-width="1.30" transform="rotate(-14 466 333)"/>
<rect x="478" y="329" width="9" height="4" rx="1.2" fill="#f4f4f4" stroke="#111" stroke-width="1.30" transform="rotate(-14 478 329)"/>
<rect x="490" y="325.5" width="9" height="4" rx="1.2" fill="#f4f4f4" stroke="#111" stroke-width="1.30" transform="rotate(-14 490 325.5)"/>
<rect x="475" y="337" width="9" height="4" rx="1.2" fill="#f4f4f4" stroke="#111" stroke-width="1.30" transform="rotate(-14 475 337)"/>
<rect x="487" y="333.5" width="9" height="4" rx="1.2" fill="#f4f4f4" stroke="#111" stroke-width="1.30" transform="rotate(-14 487 333.5)"/>
<rect x="499" y="330" width="9" height="4" rx="1.2" fill="#f4f4f4" stroke="#111" stroke-width="1.30" transform="rotate(-14 499 330)"/>
<rect x="520" y="329" width="9" height="4" rx="1.2" fill="#f4f4f4" stroke="#111" stroke-width="1.30" transform="rotate(-14 520 329)"/>
<rect x="532" y="330.5" width="9" height="4" rx="1.2" fill="#f4f4f4" stroke="#111" stroke-width="1.30" transform="rotate(-14 532 330.5)"/>
<rect x="527" y="336" width="9" height="4" rx="1.2" fill="#f4f4f4" stroke="#111" stroke-width="1.30" transform="rotate(-14 527 336)"/>
<rect x="539" y="332.5" width="9" height="4" rx="1.2" fill="#f4f4f4" stroke="#111" stroke-width="1.30" transform="rotate(-14 539 332.5)"/>
<rect x="498" y="341" width="9" height="4" rx="1.2" fill="#f4f4f4" stroke="#111" stroke-width="1.30" transform="rotate(-14 498 341)"/>
<rect x="516" y="340" width="9" height="4" rx="1.2" fill="#f4f4f4" stroke="#111" stroke-width="1.30" transform="rotate(-14 516 340)"/>
<ellipse cx="509" cy="334.5" rx="6.5" ry="4" stroke-width="2.08" fill="#fff"/>
<ellipse cx="509" cy="333.5" rx="4" ry="2.4" stroke-width="1.56" fill="#fff"/>
<line x1="503" y1="336" x2="503" y2="340" stroke-width="1.30"/>
<line x1="515" y1="336" x2="515" y2="340" stroke-width="1.30"/>
<path d="M459,293 L462,291.5 L465.5,293 L466,297.5 L462.5,299.5 L459,298 Z" fill="#222" stroke="#111" stroke-width="1.30"/>
<circle cx="462.3" cy="295.5" r="1.2" stroke-width="1.04" fill="#fff"/>
<line x1="462" y1="300" x2="463.5" y2="326" stroke-width="1.17"/>
<polyline points="415,281.6 438.4,270.5 437.6,346.5 441,347" stroke-width="1.17" fill="none"/>
<polyline points="486.5,362 469.3,371 468.4,386" stroke-width="1.17" fill="none"/>
<line x1="512.6" y1="371.8" x2="512.6" y2="400" stroke-width="1.17"/>
<polyline points="556,346 556,379 572,374" stroke-width="1.17" fill="none"/>
<line x1="560" y1="339" x2="584" y2="327.5" stroke-width="1.17"/>
<path d="M544.5,356.5 L547.5,355 L551,356.5 L551.5,361 L548,363 L544.5,361.5 Z" fill="#222" stroke="#111" stroke-width="1.30"/>
<circle cx="547.8" cy="359" r="1.2" stroke-width="1.04" fill="#fff"/>
<polyline points="533.5,355 533.5,363.5 538,362.5" stroke-width="1.30" fill="none"/>
<path d="M543,343.5 Q543.5,348.5 547,348 Q550,347.5 550,343" stroke-width="1.30" fill="none"/>
<path d="M585,318.8 L640,324.8 L640,330 L585,324.2 Q582,321.5 585,318.8 Z" fill="#f0f0f0" stroke="#111" stroke-width="1.69"/>
<path d="M616,317 Q612,325 615,334" stroke-width="1.43" fill="none"/>
<line x1="640" y1="327.5" x2="673" y2="327.5" stroke-width="1.69"/>
<ellipse cx="676.5" cy="327.5" rx="3.0" ry="3.4" stroke-width="1.69" fill="none"/>
<path d="M574,368 L574.3,373.8 L583.8,373.8 L583.8,368.5" stroke-width="2.34" fill="none"/>
<line x1="579" y1="366.5" x2="579" y2="373.5" stroke-width="1.69"/>
<polygon points="435,402.8 447.5,401.5 448,405 452.3,405.2 448.3,409 447.8,415.5 438.5,416.5 435.5,411" stroke-width="1.69" fill="none"/>
<line x1="438.6" y1="403.5" x2="439" y2="415.5" stroke-width="2.60"/>
<line x1="442.2" y1="403" x2="442.6" y2="415.8" stroke-width="2.60"/>
<line x1="445.6" y1="402.6" x2="445.8" y2="415.3" stroke-width="1.82"/>
<path d="M460.5,393 Q461,388.5 467,387.3 L475,387.5 Q477.8,388 477.5,391 L476.3,394 L476,402 L471,402.3 L470.2,396.5 L466.5,397.3 L462,398.3 L460.5,396.5 Z" fill="#fff" stroke="#111" stroke-width="1.69"/>
<line x1="462.5" y1="392.3" x2="475.5" y2="392.8" stroke-width="1.43"/>
<path d="M471,396 L476,395.5 L476,402 L471.5,402.2 Z" fill="#333"/>
<circle cx="460.8" cy="397.8" r="1.6" stroke-width="1.43" fill="#222"/>
<circle cx="486.6" cy="388" r="1.5" stroke-width="1.56" fill="#111"/>
<circle cx="492.6" cy="384.4" r="1.9" stroke-width="1.56" fill="#111"/>
<line x1="493" y1="385" x2="494" y2="390" stroke-width="1.43"/>
<path d="M481,423.5 L511.5,413.6 L515.5,415.8 L516,421 L484,431.8 Q479.5,430.8 479.8,427 Z" fill="#fff" stroke="#111" stroke-width="1.69"/>
<rect x="485.5" y="424.3" width="6.2" height="3.2" rx="0.8" fill="none" stroke="#111" stroke-width="1.56" transform="rotate(-19 485.5 424.3)"/>
<rect x="492.5" y="421.9" width="6.2" height="3.2" rx="0.8" fill="none" stroke="#111" stroke-width="1.56" transform="rotate(-19 492.5 421.9)"/>
<rect x="499.5" y="419.5" width="6.2" height="3.2" rx="0.8" fill="none" stroke="#111" stroke-width="1.56" transform="rotate(-19 499.5 419.5)"/>
<line x1="481.5" y1="428.3" x2="515.8" y2="417.6" stroke-width="1.30"/>
<path d="M518,409.5 L538,407.2 Q544,407 544.5,409.5 Q544,412 538,411.5 L518,413.5" stroke-width="1.69" fill="none"/>
<line x1="523" y1="410" x2="535" y2="408.5" stroke-width="2.34"/>
<path d="M513,419 Q525,417.5 535,416.5 Q538,416 537,414" stroke-width="1.43" fill="none"/>
<polygon points="508.5,402 519.5,401.8 520,412.5 509,413" stroke-width="1.82" fill="none"/>
<path d="M511,405 Q514,403 516,405 Q513,407 512,409 Q514,411 517,409" stroke-width="1.82" fill="none"/>
<path d="M459,452 Q460,456 458,459 Q452,464 446,466 L432,468.5" stroke-width="1.56" fill="none"/>
<ellipse cx="459" cy="454.5" rx="1.4" ry="2.6" fill="#111"/>
<path d="M432,467 L426,467.5 L425,470 L432,470" stroke-width="1.43" fill="none"/>
<path d="M425,467.5 Q419,467.5 419.5,471 Q420,474 424,475 L514,508.5" stroke-width="1.56" fill="none"/>
<path d="M425,470.5 Q422.5,470.5 423,472 L515,506" stroke-width="1.43" fill="none"/>
<polyline points="387.5,489 390.5,581" stroke-width="1.69" fill="none"/>
<polyline points="392,491 394,580" stroke-width="1.30" fill="none"/>
<path d="M387,505.5 L387,488.5 Q387.5,487.5 389,487.8 L395.5,489 L396,494 L392,494.5 L392,505 Z" fill="#fff" stroke="#111" stroke-width="1.69"/>
<line x1="387.5" y1="488" x2="545" y2="521.8" stroke-width="1.56"/>
<line x1="392" y1="494.5" x2="545" y2="526.5" stroke-width="1.43"/>
<line x1="400" y1="489" x2="520" y2="515" stroke-width="1.30"/>
<line x1="391" y1="582" x2="530" y2="612.3" stroke-width="1.95" stroke-linecap="butt" stroke-dasharray="4.5 1.2"/>
<path d="M541,522 L541.5,540" stroke-width="1.56" fill="none"/>
<path d="M546,543 Q547.5,562 538.5,574" stroke-width="1.82" fill="none"/>
<path d="M542.5,544 Q543.5,560 536,571.5" stroke-width="1.30" fill="none"/>
<path d="M529,579.5 L535,575.5 L544.5,576.2 L546.5,578 L546,590.5 L537,599.5 L532.3,600 L529,599 Z" fill="#fff" stroke="#111" stroke-width="1.69"/>
<line x1="530" y1="580.5" x2="545.5" y2="578.5" stroke-width="1.30"/>
<line x1="532.3" y1="580.5" x2="532.3" y2="607" stroke-width="1.56"/>
<line x1="529" y1="599" x2="529" y2="607" stroke-width="1.56"/>
<circle cx="536.3" cy="613" r="3.8" stroke-width="2.08" fill="none"/>
<circle cx="536.3" cy="613" r="1.3" stroke-width="1.30" fill="none"/>
<line x1="532" y1="607" x2="533" y2="610" stroke-width="1.30"/>
<circle cx="389.6" cy="500" r="1.1" stroke-width="1.30" fill="#333"/>
<path d="M410,486 L418,483 L422,484 L428,487 L436,487.5 L442,490 L443,496 L430,494 L418,492 L411,490 Z" fill="#fff" stroke="#111" stroke-width="1.43"/>
<path d="M420,487 L431,486 L438,490 L436,494 L425,492 Z" fill="#333"/>
<polyline points="444,494 449,494 452,498 462,500 463,503" stroke-width="1.43" fill="none"/>
<line x1="447" y1="500" x2="460" y2="503" stroke-width="2.08"/>
<path d="M513,507 L519,506 L527,508.5 L534,510 L541,512.5 L544,516 L542,519 L535,518 L525,516 L515,513 Z" fill="#fff" stroke="#111" stroke-width="1.56"/>
<path d="M527,509 L534,509.5 L542,513 L541,517 L533,515 Z" fill="#222"/>
<path d="M531,507 L534,506 L536,509 L532,510 Z" fill="#222"/>
<polyline points="534,522 541,521 549,523 549.5,542 542,543 536,538" stroke-width="1.56" fill="none"/>
<line x1="543" y1="525" x2="543" y2="538" stroke-width="2.86"/>
<path d="M550,527.5 L562,526.5 L565,529 L564,539 L553,540.5 L550,538 Z" fill="#333" stroke="#111" stroke-width="1.56"/>
<path d="M553,530.5 L561,530 M553,534.5 L561,534" stroke="#ddd" stroke-width="1.30"/>
<rect x="542.8" y="527.2" width="4" height="3.4" fill="#222"/>
<rect x="542.8" y="536.2" width="4" height="3.4" fill="#222"/>
<ellipse cx="416" cy="529.5" rx="24" ry="28.5" stroke-width="2.34" fill="none"/>
<path d="M421.5,504.5 A21.4,25.9 0 0 1 419.7,555.0" fill="none" stroke="#222" stroke-width="2.86" stroke-linecap="butt" stroke-dasharray="1.4 0.7"/>
<path d="M417.7,505.7 A19.4,23.9 0 0 1 416.0,553.4" stroke-width="1.17" fill="none"/>
<ellipse cx="415" cy="531.5" rx="15.600000000000001" ry="21.09" stroke-width="2.34" fill="none"/>
<line x1="401.2158849772096" y1="550.566222185772" x2="404.6869380695169" y2="547.1879661916172" stroke-width="1.17"/>
<line x1="413.9954179168039" y1="502.104645802477" x2="414.6403704131365" y2="508.4902538172451" stroke-width="1.17"/>
<path d="M419,516.4 Q432.3,519.0 429.9,531.5 Q428.4,542.2 419,544.7" stroke-width="1.56" fill="none"/>
<line x1="419" y1="530.5" x2="427.58" y2="530.5" stroke-width="1.30"/>
<path d="M400.9,521.0 Q398.9,531.5 401.4,541.0" stroke-width="2.60" fill="none"/>
<path d="M407,516 Q408,513 411,513 L418,514 Q419.5,516 419,521 L419,553 Q418,557 414.5,557 Q408,557 407.5,549 Z" fill="#fff" stroke="#111" stroke-width="1.95"/>
<line x1="416.5" y1="514" x2="416.0" y2="556" stroke-width="2.08"/>
<rect x="409" y="515" width="2" height="3.5" fill="#111"/>
<rect x="411.5" y="515.5" width="1.6" height="2.5" fill="#111"/>
<ellipse cx="464.4" cy="541" rx="20" ry="24" stroke-width="2.34" fill="none"/>
<path d="M468.9,520.3 A17.4,21.4 0 0 1 467.4,562.1" fill="none" stroke="#222" stroke-width="2.86" stroke-linecap="butt" stroke-dasharray="1.4 0.7"/>
<path d="M465.7,521.7 A15.4,19.4 0 0 1 464.4,560.4" stroke-width="1.17" fill="none"/>
<ellipse cx="463.4" cy="543" rx="13.0" ry="17.759999999999998" stroke-width="2.34" fill="none"/>
<line x1="452.18703541595573" y1="558.6190221917365" x2="454.7581858547019" y2="556.137038196031" stroke-width="1.17"/>
<line x1="462.7440408877945" y1="518.0875219438899" x2="463.2669753442804" y2="523.3075821618907" stroke-width="1.17"/>
<path d="M466,530.0 Q477.1,532.1 475.1,543.0 Q473.8,551.7 466,553.8" stroke-width="1.56" fill="none"/>
<line x1="466" y1="542" x2="473.15" y2="542" stroke-width="1.30"/>
<path d="M451.9,534.1 Q449.9,543.0 452.4,551.0" stroke-width="2.60" fill="none"/>
<path d="M456.4,532 Q457.4,529 460.4,529 L465,530 Q466.5,532 466,537 L466,560 Q465,564 461.5,564 Q457.4,564 456.9,556 Z" fill="#fff" stroke="#111" stroke-width="1.95"/>
<line x1="463.5" y1="530" x2="463.0" y2="563" stroke-width="2.08"/>
<rect x="458.4" y="531" width="2" height="3.5" fill="#111"/>
<rect x="460.9" y="531.5" width="1.6" height="2.5" fill="#111"/>
<ellipse cx="514" cy="554" rx="23.7" ry="29" stroke-width="2.34" fill="none"/>
<path d="M519.5,528.5 A21.099999999999998,26.4 0 0 1 517.7,580.0" fill="none" stroke="#222" stroke-width="2.86" stroke-linecap="butt" stroke-dasharray="1.4 0.7"/>
<path d="M515.7,529.7 A19.1,24.4 0 0 1 514.0,578.4" stroke-width="1.17" fill="none"/>
<ellipse cx="513" cy="556" rx="15.405" ry="21.46" stroke-width="2.34" fill="none"/>
<line x1="499.40872126011556" y1="575.4492444073314" x2="502.81228165340576" y2="571.9714026355712" stroke-width="1.17"/>
<line x1="512.0215646396282" y1="526.1065484534312" x2="512.6573657829723" y2="532.6216617789512" stroke-width="1.17"/>
<path d="M516.5,540.7 Q529.6,543.3 527.3,556.0 Q525.7,566.9 516.5,569.5" stroke-width="1.56" fill="none"/>
<line x1="516.5" y1="555" x2="524.97275" y2="555" stroke-width="1.30"/>
<path d="M499.1,545.3 Q497.1,556.0 499.6,565.7" stroke-width="2.60" fill="none"/>
<path d="M505.5,541 Q506.5,538 509.5,538 L515.5,539 Q517.0,541 516.5,546 L516.5,577 Q515.5,581 512.0,581 Q506.5,581 506.0,573 Z" fill="#fff" stroke="#111" stroke-width="1.95"/>
<line x1="514.0" y1="539" x2="513.5" y2="580" stroke-width="2.08"/>
<rect x="507.5" y="540" width="2" height="3.5" fill="#111"/>
<rect x="510.0" y="540.5" width="1.6" height="2.5" fill="#111"/>
<path d="M391,560 L412,561.5 L414,564 L414,581 L393,580 L391,578 Z" fill="#fff" stroke="#111" stroke-width="1.69"/>
<line x1="411" y1="562" x2="411" y2="580" stroke-width="2.34"/>
<line x1="392" y1="563" x2="411" y2="564.5" stroke-width="1.04"/>
<path d="M504,587.5 L525.5,589.0 L527.5,591.5 L527.5,605 L506,604 L504,602 Z" fill="#fff" stroke="#111" stroke-width="1.69"/>
<line x1="524.5" y1="589.5" x2="524.5" y2="604" stroke-width="2.34"/>
<line x1="505" y1="590.5" x2="524.5" y2="592.0" stroke-width="1.04"/>
<path d="M435.5,557.2 L445.8,557.7 Q447.8,558.2 447.8,560.2 L447.8,567.4 Q447.8,569.4 445.8,569.4 L435.5,568.9 Q433.5,568.4 433.5,566.4 L433.5,559.2 Q433.5,557.2 435.5,557.2 Z" fill="#fff" stroke="#111" stroke-width="1.69"/>
<path d="M444.8,558.2 Q447.8,558.7 447.8,561.2 L447.8,567.4 Q446.8,569.4 444.8,569.4 Z" fill="#666"/>
<line x1="434.5" y1="561.2" x2="443.8" y2="561.7" stroke-width="1.04"/>
<path d="M479,566 L490,566.5 Q492,567 492,569 L492,577 Q492,579 490,579 L479,578.5 Q477,578 477,576 L477,568 Q477,566 479,566 Z" fill="#fff" stroke="#111" stroke-width="1.69"/>
<path d="M489,567 Q492,567.5 492,570 L492,577 Q491,579 489,579 Z" fill="#666"/>
<line x1="478" y1="570" x2="488" y2="570.5" stroke-width="1.04"/>
<path d="M439.5,575 L493,588.5 Q494.5,590.5 492.5,591.5 L439,578.5 Q437.5,576.5 439.5,575 Z" stroke-width="1.69" fill="none"/>
<path d="M453,578.5 L453,592 Q453.5,595 456.5,595 Q459,595 459.3,592 L459.5,580" stroke-width="1.69" fill="none"/>
<path d="M459.5,580.5 L459.8,593 Q460.5,596 463,596 Q466,596 466.3,593 L466.5,582" stroke-width="1.69" fill="none"/>
<line x1="390" y1="558.3" x2="529" y2="589.2" stroke-width="1.82" stroke-linecap="butt" stroke-dasharray="4.5 1.2"/>
<path d="M548,558.5 Q572,558.8 588,556 Q599,553.5 608,549" fill="none" stroke="#1a1a1a" stroke-width="5.98"/>
<path d="M548,558.5 Q572,558.8 588,556 Q599,553.5 608,549" fill="none" stroke="#fff" stroke-width="3.12"/>
<path d="M548,558.5 Q572,558.8 588,556 Q599,553.5 608,549" fill="none" stroke="#333" stroke-width="2.86" stroke-linecap="butt" stroke-dasharray="1.2 1.6"/>
<path d="M611.5,548 Q636,551.5 655,556.5 Q668,559.5 678,560.8" fill="none" stroke="#1a1a1a" stroke-width="5.72"/>
<path d="M611.5,548 Q636,551.5 655,556.5 Q668,559.5 678,560.8" fill="none" stroke="#fff" stroke-width="2.86"/>
<path d="M611.5,548 Q636,551.5 655,556.5 Q668,559.5 678,560.8" fill="none" stroke="#333" stroke-width="2.60" stroke-linecap="butt" stroke-dasharray="1.2 1.6"/>
<path d="M678,560.8 Q692,563.5 708.3,564.3" stroke-width="1.56" fill="none"/>
<ellipse cx="711.5" cy="564.3" rx="3.0" ry="3.3" stroke-width="1.82" fill="none"/>
<path d="M608.5,544 Q607,549.5 609.5,554" stroke-width="1.17" fill="none"/>
<path d="M611.5,543.5 Q610,548.5 612.5,553.5" stroke-width="1.17" fill="none"/>
</g>
<g>
<text x="422" y="11.9">19</text>
<text x="528.5" y="26.9">16</text>
<text x="557" y="33.4">19</text>
<text x="395.5" y="43.4">17</text>
<text x="377.5" y="85.9">13</text>
<text x="367.5" y="108.9">14</text>
<text x="459" y="84.4">7</text>
<text x="465" y="105.9">8</text>
<text x="584" y="81.9">26</text>
<text x="557.5" y="87.9">23</text>
<text x="609" y="79.9">7</text>
<text x="527.5" y="111.4">14</text>
<text x="491" y="147.9">15</text>
<text x="362.5" y="132.9">3</text>
<text x="331" y="140.9">5</text>
<text x="278.5" y="143.4">2</text>
<text x="586" y="183.4">4</text>
<text x="554" y="228.9">3</text>
<text x="506" y="237.9">20</text>
<text x="484.5" y="249.9">5</text>
<text x="177" y="211.9">15</text>
<text x="78" y="246.9">1</text>
<text x="457.5" y="264.9">25</text>
<text x="527" y="280.9">10</text>
<text x="587" y="288.9">18</text>
<text x="13.5" y="438.9">8</text>
<text x="56" y="442.9">9</text>
<text x="103" y="452.9">8</text>
<text x="237.5" y="475.9">22</text>
<text x="336" y="494.4">21</text>
<text x="420.5" y="443.9">24</text>
<text x="460.5" y="439.4">12</text>
<text x="473" y="419.9">13</text>
<text x="496" y="409.9">14</text>
<text x="556" y="416.9">25</text>
<text x="595" y="405.59999999999997">19</text>
<text x="530" y="448.9">11</text>
</g>
</svg>
</body></html>
